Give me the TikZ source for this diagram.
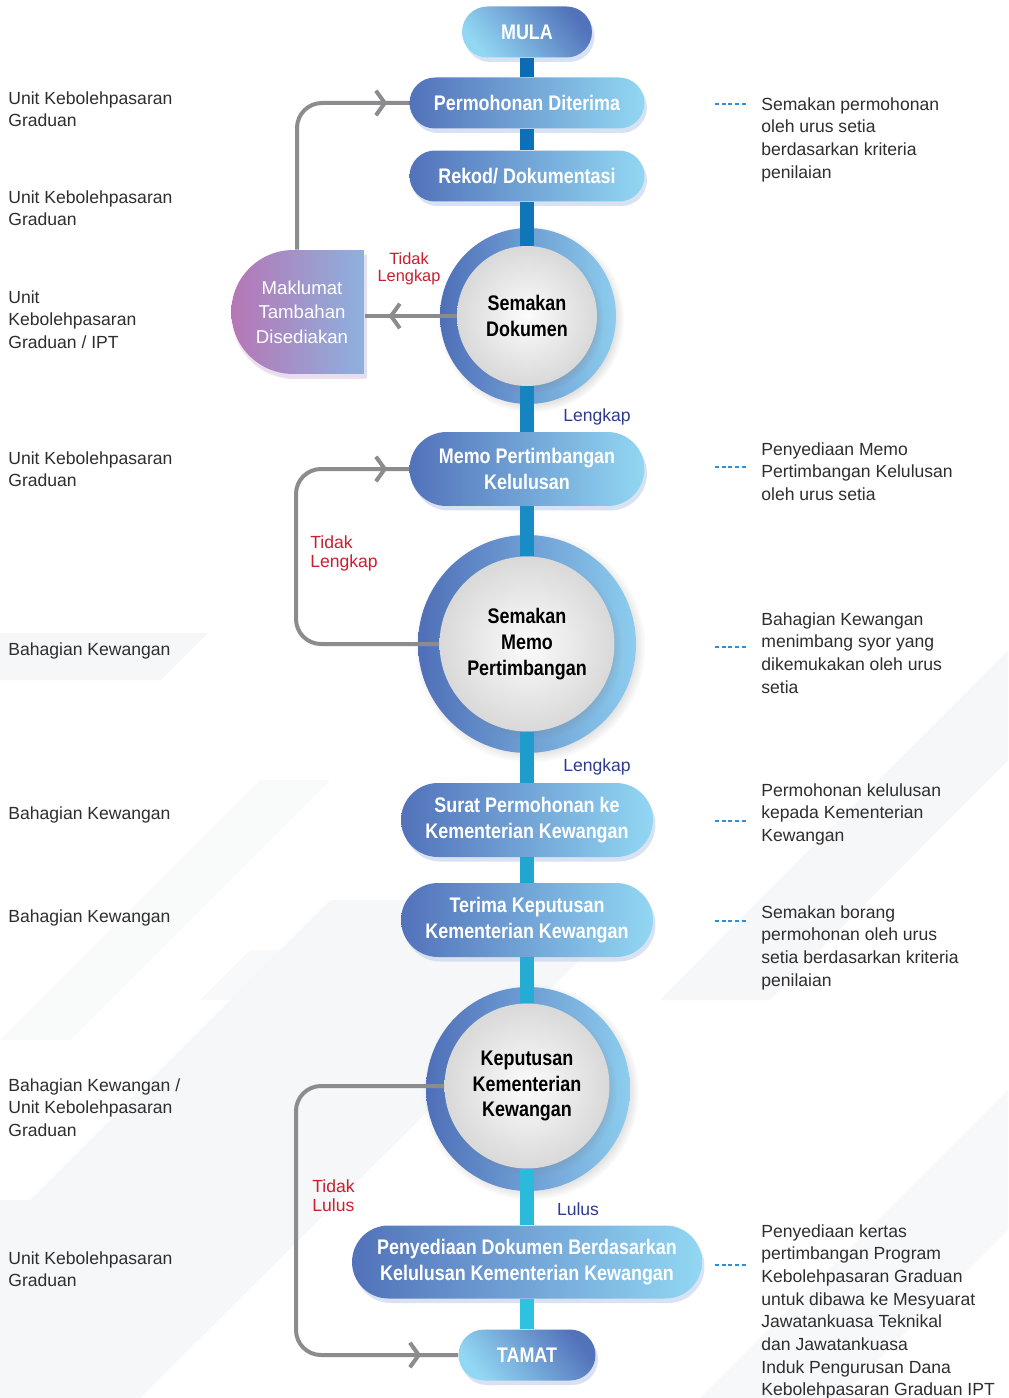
\documentclass[tikz,border=0pt]{standalone}
\usepackage{fontspec}
\setmainfont{Liberation Sans}
\newfontfamily\condfont{Liberation Sans}[FakeStretch=0.85]
\usepackage{xcolor}
\usetikzlibrary{shapes.misc,shadows,arrows.meta,decorations.markings,positioning}
\definecolor{procdark}{HTML}{5272BA}
\definecolor{proclight}{HTML}{92D7F3}
\definecolor{procshade}{HTML}{C9D6EE}
\definecolor{ringdark}{HTML}{4F6FB8}
\definecolor{ringlight}{HTML}{8DCDEE}
\definecolor{makleft}{HTML}{B676B5}
\definecolor{makright}{HTML}{8DB1DE}
\definecolor{spinetop}{HTML}{0B6BB4}
\definecolor{spinebot}{HTML}{2DC4E0}
\definecolor{loopgray}{HTML}{8C8C8E}
\definecolor{notred}{HTML}{C8202F}
\definecolor{okblue}{HTML}{2F3C8E}
\definecolor{leadblue}{HTML}{2F8EDB}
\definecolor{bodytext}{HTML}{2E2E2E}
\definecolor{bgshade}{HTML}{F6F7F8}

\tikzset{
  proc/.style={rounded rectangle, inner sep=0pt, minimum height=1.02cm, minimum width=4.7cm,
    left color=procdark, right color=proclight, text=white, align=center,
    font=\condfont\bfseries\fontsize{12}{14.7}\selectfont,
    drop shadow={shadow xshift=0.05cm, shadow yshift=-0.09cm, fill=procshade, opacity=0.7}},
  term/.style={proc, minimum width=2.6cm, top color=procdark, bottom color=proclight, shading angle=-50},
  ring/.style={circle, inner sep=0pt, left color=ringdark, right color=ringlight,
    circular drop shadow={shadow scale=1.06, opacity=0.35}},
  face/.style={circle, inner sep=0pt, shading=radial, inner color=gray!3, outer color=gray!30,
    text=black, align=center, font=\condfont\bfseries\fontsize{12}{14.7}\selectfont,
    circular drop shadow={shadow scale=1.04, shadow xshift=0.08cm, shadow yshift=-0.08cm, opacity=0.3}},
  spineseg/.style={line width=0.28cm, draw=#1},
  loopline/.style={draw=loopgray, line width=0.08cm, rounded corners=0.5cm},
  barbat/.style={postaction=decorate, decoration={markings,
    mark=at position #1 with {\arrow[loopgray]{Straight Barb[length=5pt,width=14pt]}}}},
  who/.style={anchor=north west, inner sep=0pt, align=left, text=bodytext,
    font=\fontsize{10}{12.9}\selectfont},
  note/.style={who},
  lead/.style={draw=leadblue, line width=0.8pt, dash pattern=on 2.2pt off 1.6pt},
  nolabel/.style={text=notred, inner sep=0pt, font=\fontsize{10}{10.8}\selectfont},
  yeslabel/.style={text=okblue, inner sep=0pt, font=\fontsize{10}{12}\selectfont}
}

\begin{document}
\begin{tikzpicture}[x=0.02cm, y=-0.02cm]
  \useasboundingbox (0,0) rectangle (1008,1398);
  \fill[white] (0,0) rectangle (1008,1398);
  % faint background bands
  \fill[bgshade] (0,633) -- (208,633) -- (161,680) -- (0,680) -- cycle;
  \fill[bgshade] (0,1398) -- (0,1200) -- (30,1200) -- (330,900) -- (640,900) -- (140,1398) -- cycle;
  \fill[bgshade, opacity=0.7] (200,1000) -- (320,1000) -- (370,950) -- (250,950) -- cycle;
  \fill[bgshade] (660,1000) -- (1008,650) -- (1008,760) -- (770,1000) -- cycle;
  \fill[bgshade, opacity=0.8] (700,1398) -- (1008,1090) -- (1008,1230) -- (840,1398) -- cycle;
  \fill[bgshade, opacity=0.6] (0,1040) -- (260,780) -- (330,780) -- (70,1040) -- cycle;

  % rings of the decision circles
  \node[ring, minimum size=3.52cm] (cdokring) at (528,316) {};
  \node[ring, minimum size=4.36cm] (cmemoring) at (527,644) {};
  \node[ring, minimum size=4.08cm] (ckepring) at (528,1089) {};

  % main steps
  \node[term] (mula) at (527,32) {MULA};
  \node[proc] (perm) at (527,103) {Permohonan Diterima};
  \node[proc] (rekod) at (527,176) {Rekod/ Dokumentasi};
  \node[face, minimum size=2.8cm] (cdok) at (527,316) {Semakan\\Dokumen};
  \node[proc, minimum height=1.48cm] (memo) at (527,469) {Memo Pertimbangan\\Kelulusan};
  \node[face, minimum size=3.5cm] (cmemo) at (527,644) {Semakan\\Memo\\Pertimbangan};
  \node[proc, minimum height=1.48cm, minimum width=5.04cm] (surat) at (527,820) {Surat Permohonan ke\\Kementerian Kewangan};
  \node[proc, minimum height=1.48cm, minimum width=5.04cm] (terima) at (527,920) {Terima Keputusan\\Kementerian Kewangan};
  \node[face, minimum size=3.3cm] (ckep) at (527,1086) {Keputusan\\Kementerian\\Kewangan};
  \node[proc, minimum height=1.46cm, minimum width=7cm] (sedia) at (527,1262) {Penyediaan Dokumen Berdasarkan\\Kelulusan Kementerian Kewangan};
  \node[term, minimum width=2.74cm] (tamat) at (527,1355) {TAMAT};
  \node[proc, rounded rectangle right arc=none, minimum width=2.66cm, minimum height=2.48cm,
    left color=makleft, right color=makright, font=\fontsize{10.6}{13.9}\selectfont,
    drop shadow={shadow xshift=0.02cm, shadow yshift=-0.1cm, fill=makleft!25, opacity=0.8}]
    (mak) at (302,312) {Maklumat\\Tambahan\\Disediakan};

  % spine
  \foreach \a/\b/\p in {mula/perm/1, perm/rekod/6, rekod/cdok/12, cdok/memo/29, memo/cmemo/37,
      cmemo/surat/56, surat/terima/65, terima/ckep/73, ckep/sedia/90, sedia/tamat/99}
    \draw[spineseg=spinebot!\p!spinetop] (\a.south) -- (\b.north);

  % return loops
  \coordinate (rail) at (296,0);
  \draw[loopline, barbat=-0.44cm] ([xshift=-0.1cm]mak.north) |- (perm.west);
  \draw[loopline, barbat=-0.48cm, rounded corners=0pt] (cdok.west) -- (cdok.west -| mak.east);
  \draw[loopline, barbat=-0.44cm] (cmemo.west) -| (rail |- memo.west) -- (memo.west);
  \draw[loopline, barbat=-0.74cm] (ckep.west) -| (rail |- tamat.west) -- (tamat.west);

  % branch labels
  \node[nolabel, align=center, font=\fontsize{9.3}{9.8}\selectfont] (nodok) at (409,269) {Tidak\\Lengkap};
  \node[nolabel, anchor=north west, align=left] (nomemo) at (310,535) {Tidak\\Lengkap};
  \node[nolabel, anchor=north west, align=left] (nokep) at (312,1179) {Tidak\\Lulus};
  \node[yeslabel] (okdok) at (597,417) {Lengkap};
  \node[yeslabel] (okmemo) at (597,767) {Lengkap};
  \node[yeslabel] (okkep) at (578,1209) {Lulus};

  % who is responsible
  \node[who] (w1) at (8,91) {Unit Kebolehpasaran\\Graduan};
  \node[who] (w2) at (8,190) {Unit Kebolehpasaran\\Graduan};
  \node[who] (w3) at (8,290) {Unit\\Kebolehpasaran\\Graduan / IPT};
  \node[who] (w4) at (8,451) {Unit Kebolehpasaran\\Graduan};
  \node[who] (w5) at (8,642) {Bahagian Kewangan};
  \node[who] (w6) at (8,806) {Bahagian Kewangan};
  \node[who] (w7) at (8,909) {Bahagian Kewangan};
  \node[who] (w8) at (8,1078) {Bahagian Kewangan /\\Unit Kebolehpasaran\\Graduan};
  \node[who] (w9) at (8,1251) {Unit Kebolehpasaran\\Graduan};

  % notes
  \node[note] (n1) at (761,97) {Semakan permohonan\\oleh urus setia\\berdasarkan kriteria\\penilaian};
  \node[note] (n2) at (761,442) {Penyediaan Memo\\Pertimbangan Kelulusan\\oleh urus setia};
  \node[note] (n3) at (761,612) {Bahagian Kewangan\\menimbang syor yang\\dikemukakan oleh urus\\setia};
  \node[note] (n4) at (761,783) {Permohonan kelulusan\\kepada Kementerian\\Kewangan};
  \node[note] (n5) at (761,905) {Semakan borang\\permohonan oleh urus\\setia berdasarkan kriteria\\penilaian};
  \node[note] (n6) at (761,1224) {Penyediaan kertas\\pertimbangan Program\\Kebolehpasaran Graduan\\untuk dibawa ke Mesyuarat\\Jawatankuasa Teknikal\\dan Jawatankuasa\\Induk Pengurusan Dana\\Kebolehpasaran Graduan IPT};
  \foreach \y [count=\k] in {104,467,647,821,921,1265} {
    \coordinate (lead\k) at (715,\y);
    \draw[lead] (lead\k) -- ++(33,0);
  }
\end{tikzpicture}
\end{document}
